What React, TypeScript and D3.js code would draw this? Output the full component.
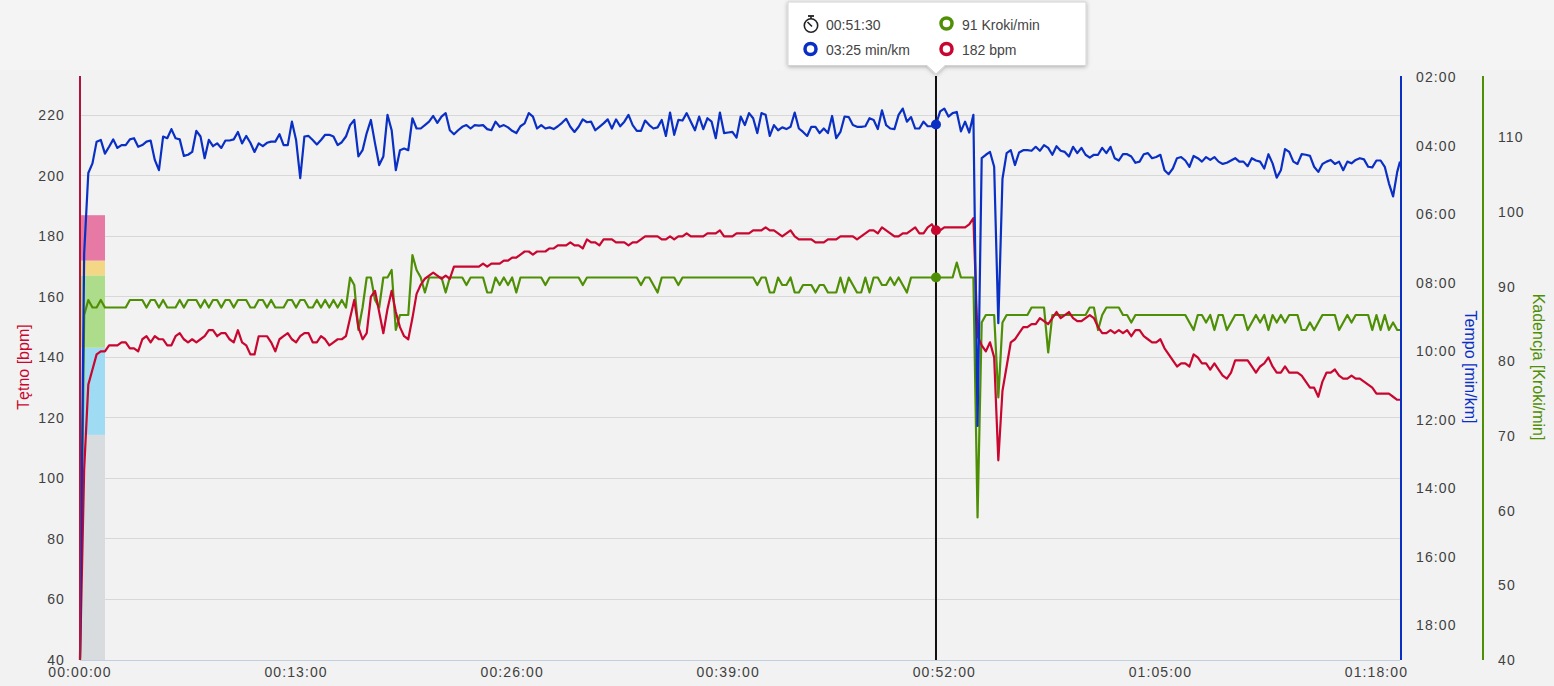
import React from "react";
import * as d3 from "d3";

const stepSeconds = 15;

const paceSeconds = [
1140,431,290,273,235,232,256,244,231,246,241,241,231,229,244,241,235,233,267,285,
226,229,213,229,231,260,258,253,216,226,264,232,243,238,246,233,233,231,218,238,
225,237,253,238,243,237,235,235,222,241,241,200,232,299,226,225,232,240,232,223,
223,226,241,236,226,206,197,261,250,220,197,238,276,261,188,215,285,250,247,250,
194,212,
212,206,200,190,202,191,185,215,222,215,209,206,212,206,207,206,213,215,200,209,
206,210,216,220,208,203,185,191,212,206,212,210,213,208,202,195,209,218,209,196,
201,200,215,209,203,196,212,196,208,200,188,206,216,216,198,206,212,210,197,225,
184,223,197,198,185,200,215,191,213,194,200,229,184,220,219,218,228,191,206,185,
194,220,185,188,225,206,215,210,213,209,184,212,218,225,209,209,220,212,220,190,
229,218,
191,192,206,209,209,208,194,197,213,180,206,212,213,188,177,200,192,212,212,200,
208,208,205,182,177,191,185,183,217,200,219,188,
733,264,258,253,279,553,300,255,250,276,254,250,250,251,244,251,241,246,258,243,
251,253,261,244,255,246,258,263,258,258,246,255,244,264,268,257,257,261,272,270,
257,255,
264,262,258,285,292,282,264,262,268,279,260,264,270,262,267,262,270,274,272,268,
264,270,270,278,264,268,270,282,257,273,298,285,248,253,270,274,257,258,260,279,
288,274,270,267,274,270,285,270,273,267,264,266,279,280,268,268,279,308,331,288,
270,
];

const heartRate = [
40,103,131,136,141,142,142,144,144,144,145,145,143,143,142,146,147,145,147,146,
146,144,144,147,148,146,145,146,145,146,147,149,149,147,148,148,146,145,149,145,
144,141,141,147,147,147,145,142,146,147,148,146,145,147,148,148,145,145,147,146,
144,145,146,146,147,153,159,150,146,148,160,162,155,148,156,162,155,150,147,146,
153,161,
164,166,167,168,167,166,167,166,170,170,170,170,170,170,170,171,170,171,171,171,
172,172,173,173,174,175,175,174,175,175,175,176,176,177,177,177,178,177,177,176,
179,178,178,177,179,179,179,178,178,178,177,178,178,179,180,180,180,180,179,179,
180,179,180,180,181,180,180,180,180,181,181,181,182,180,180,180,181,181,181,181,
182,182,182,183,182,182,181,180,181,182,180,179,179,179,179,178,178,178,179,179,
179,180,
180,180,180,179,180,181,182,182,181,183,182,181,180,180,181,181,182,183,181,181,
183,184,182,182,183,183,183,183,183,183,184,186,
147,144,142,145,140,106,129,137,145,146,148,150,150,151,151,153,152,151,153,155,
153,154,155,153,152,152,153,154,153,150,148,148,149,148,149,148,149,147,149,149,
147,146,
145,145,146,143,141,139,137,138,138,137,141,140,138,138,136,138,136,134,133,135,
139,139,139,139,137,135,137,138,140,137,135,135,137,135,135,135,134,132,130,130,
127,132,135,135,136,134,133,133,134,133,133,132,131,130,128,128,128,128,127,126,
126,
];

const cadence = [
40,86,88,87,87,88,87,87,87,87,87,87,88,88,88,88,87,88,88,87,
88,87,87,87,88,87,88,88,88,87,88,87,88,88,87,88,88,87,88,88,
88,87,87,88,88,87,88,87,87,87,88,88,87,88,88,87,87,88,87,88,
87,88,87,88,87,91,90,84,87,91,91,88,87,91,91,92,84,86,86,86,
94,92,
91,89,91,91,91,91,89,91,91,91,91,90,91,91,91,91,89,89,91,90,
91,90,91,89,91,91,91,91,91,91,90,91,91,91,91,91,91,91,91,90,
91,91,91,91,91,91,91,91,91,91,91,91,91,90,91,91,90,89,91,91,
91,91,90,91,91,91,91,91,91,91,91,91,91,91,91,91,91,91,91,91,
91,90,91,91,89,89,91,90,90,91,89,89,90,90,90,89,90,90,89,89,
89,91,
89,91,90,89,89,91,89,91,91,90,90,91,90,91,90,89,91,91,91,91,
91,91,91,91,91,91,91,93,91,91,91,91,
59,85,86,86,86,75,85,86,86,86,86,86,86,87,87,87,87,81,86,86,
86,86,86,86,86,86,86,87,87,84,86,87,87,87,87,86,86,85,86,86,
86,86,
86,86,86,86,86,86,86,86,86,85,84,86,86,85,86,84,86,86,84,85,
86,86,86,84,85,86,85,86,84,86,85,86,85,86,86,86,84,84,85,84,
85,86,86,86,86,84,85,86,85,86,86,86,86,84,86,84,86,84,85,84,
84,
];

const heartTicks = [40, 60, 80, 100, 120, 140, 160, 180, 200, 220];
const paceTicks = [120, 240, 360, 480, 600, 720, 840, 960, 1080];
const cadenceTicks = [40, 50, 60, 70, 80, 90, 100, 110];
const timeTicks = [0, 780, 1560, 2340, 3120, 3900, 4680];

const zoneEdges = [40, 114.4, 143.2, 167.1, 172, 187];
const zoneColors = ["#d8dcde", "#9fdcf3", "#addc8a", "#f4d785", "#e779a5"];

const hoverSecond = 3090;
const hoverHeart = 182;
const hoverPace = 205;
const hoverCadence = 91;

const RED = "#c8062f";
const BLUE = "#0a2fc4";
const GREEN = "#4f8f06";
const TEXT = "#404040";

const pad = (n: number) => String(n).padStart(2, "0");
const fmtClock = (s: number) =>
  `${pad(Math.floor(s / 3600))}:${pad(Math.floor(s / 60) % 60)}:${pad(s % 60)}`;
const fmtPace = (s: number) => `${pad(Math.floor(s / 60))}:${pad(s % 60)}`;

const top = 76;
const bottom = 660;
const left = 80;
const right = 1400;

const x = d3.scaleLinear().domain([0, 4765]).range([left, right]);
const yHeart = d3.scaleLinear().domain([40, 233]).range([bottom, top]);
const yPace = d3.scaleLinear().domain([120, 1143]).range([top, bottom]);
const yCad = d3.scaleLinear().domain([40, 117.87]).range([bottom, top]);
const yCadLabel = d3.scaleLinear().domain([40, 118.2]).range([bottom, top]);

function pathOf(values: number[], y: d3.ScaleLinear<number, number>) {
  const line = d3
    .line<number>()
    .x((_, i) => Math.min(x(i * stepSeconds), right))
    .y((v) => y(v));
  return line(values) ?? "";
}

const labelStyle: React.CSSProperties = {
  fontFamily: "'Liberation Sans', Arial, sans-serif",
  fontSize: 14,
  letterSpacing: 1.1,
  fill: TEXT,
};
const titleStyle: React.CSSProperties = {
  fontFamily: "'Liberation Sans', Arial, sans-serif",
  fontSize: 16,
};
const tipStyle: React.CSSProperties = {
  fontFamily: "'Liberation Sans', Arial, sans-serif",
  fontSize: 14,
  fill: "#444",
};

function Ring({ cx, cy, color }: { cx: number; cy: number; color: string }) {
  return <circle cx={cx} cy={cy} r={5.5} fill="#fff" stroke={color} strokeWidth={3.5} />;
}

export default function App() {
  const hx = x(hoverSecond);
  return (
    <svg
      width={1554}
      height={686}
      viewBox="0 0 1554 686"
      style={{ position: "absolute", left: 0, top: 0, display: "block" }}
    >
      <defs>
        <filter id="tipShadow" x="-5%" y="-20%" width="110%" height="140%">
          <feDropShadow dx="0" dy="1" stdDeviation="2" floodColor="#000" floodOpacity="0.3" />
        </filter>
      </defs>
      <rect x={0} y={0} width={1554} height={686} fill="#f2f2f2" />
      <rect x={0} y={0} width={1554} height={70} fill="#f4f4f4" />

      {heartTicks.map((t) => (
        <line
          key={t}
          x1={left}
          x2={right}
          y1={yHeart(t)}
          y2={yHeart(t)}
          stroke={t === 40 ? "#c0d0e0" : "#d8d8d8"}
          strokeWidth={1}
          shapeRendering="crispEdges"
        />
      ))}

      {zoneColors.map((c, i) => (
        <rect
          key={c}
          x={left}
          width={25}
          y={yHeart(zoneEdges[i + 1])}
          height={yHeart(zoneEdges[i]) - yHeart(zoneEdges[i + 1])}
          fill={c}
        />
      ))}

      <path d={pathOf(cadence, yCad)} fill="none" stroke={GREEN} strokeWidth={2.2} strokeLinejoin="round" />
      <path d={pathOf(heartRate, yHeart)} fill="none" stroke={RED} strokeWidth={2.2} strokeLinejoin="round" />
      <path d={pathOf(paceSeconds, yPace)} fill="none" stroke={BLUE} strokeWidth={2.2} strokeLinejoin="round" />

      <line x1={left} x2={left} y1={top} y2={bottom} stroke="#b0143c" strokeWidth={2} />
      <line x1={1401} x2={1401} y1={top} y2={bottom} stroke={BLUE} strokeWidth={2} />
      <line x1={1483} x2={1483} y1={top} y2={bottom} stroke={GREEN} strokeWidth={2} />

      <line x1={hx} x2={hx} y1={top} y2={bottom} stroke="#111" strokeWidth={2} />
      <circle cx={hx} cy={yPace(hoverPace)} r={5} fill={BLUE} />
      <circle cx={hx} cy={yHeart(hoverHeart)} r={5} fill={RED} />
      <circle cx={hx} cy={yCad(hoverCadence)} r={5} fill={GREEN} />

      {heartTicks.map((t) => (
        <text key={t} x={65} y={yHeart(t) + 5} textAnchor="end" style={labelStyle}>
          {t}
        </text>
      ))}
      {paceTicks.map((t) => (
        <text key={t} x={1416} y={yPace(t) + 6} style={labelStyle}>
          {fmtPace(t)}
        </text>
      ))}
      {cadenceTicks.map((t) => (
        <text key={t} x={1498} y={yCadLabel(t) + 5} style={labelStyle}>
          {t}
        </text>
      ))}
      {timeTicks.map((t) => (
        <text key={t} x={x(t)} y={677} textAnchor="middle" style={labelStyle}>
          {fmtClock(t)}
        </text>
      ))}

      <text
        transform="translate(29,367) rotate(-90)"
        textAnchor="middle"
        style={{ ...titleStyle, fill: RED }}
      >
        Tętno [bpm]
      </text>
      <text
        transform="translate(1465,367) rotate(90)"
        textAnchor="middle"
        style={{ ...titleStyle, fill: BLUE }}
      >
        Tempo [min/km]
      </text>
      <text
        transform="translate(1533,367) rotate(90)"
        textAnchor="middle"
        style={{ ...titleStyle, fill: GREEN }}
      >
        Kadencja [Kroki/min]
      </text>

      <g filter="url(#tipShadow)">
        <path
          d={`M788 2H1086V65.5H${hx + 9}L${hx} 74L${hx - 9} 65.5H788Z`}
          fill="#fff"
          stroke="#d4d4d4"
          strokeWidth={1}
        />
      </g>
      <g>
        <circle cx={811} cy={25.5} r={6.7} fill="none" stroke="#222" strokeWidth={1.6} />
        <line x1={808} x2={814} y1={16} y2={16} stroke="#222" strokeWidth={1.8} />
        <line x1={811} x2={811} y1={16} y2={19} stroke="#222" strokeWidth={1.6} />
        <line x1={807.5} x2={812} y1={22} y2={26.5} stroke="#222" strokeWidth={1.6} />
      </g>
      <text x={826} y={30} style={tipStyle}>{fmtClock(hoverSecond)}</text>
      <Ring cx={810.5} cy={49} color={BLUE} />
      <text x={826} y={55} style={tipStyle}>{`${fmtPace(hoverPace)} min/km`}</text>
      <Ring cx={946.5} cy={23.5} color={GREEN} />
      <text x={962} y={30} style={tipStyle}>{`${hoverCadence} Kroki/min`}</text>
      <Ring cx={946.5} cy={49} color={RED} />
      <text x={962} y={55} style={tipStyle}>{`${hoverHeart} bpm`}</text>
    </svg>
  );
}
